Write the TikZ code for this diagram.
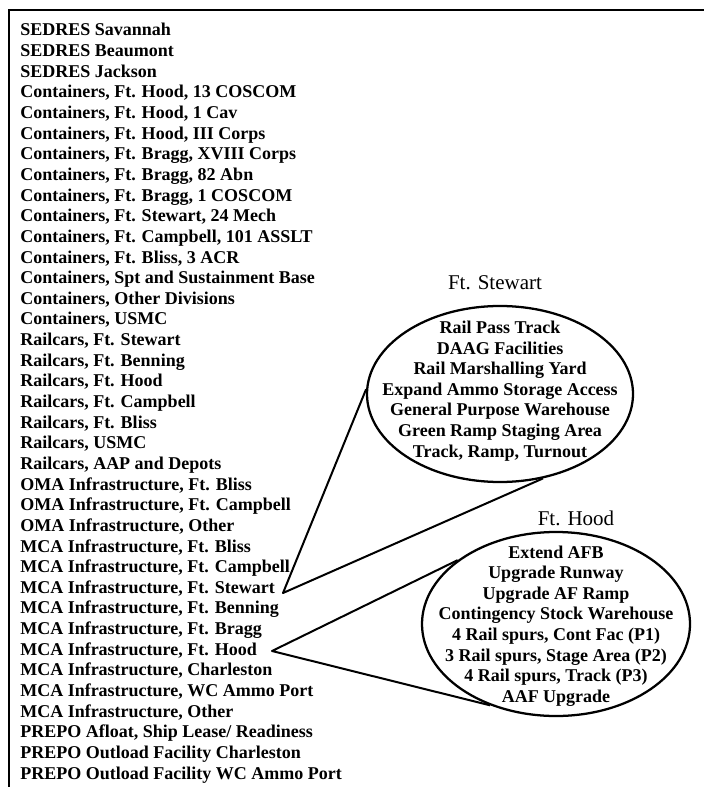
\documentclass[tikz,border=0pt]{standalone}
\usepackage{fontspec}
\setmainfont{Liberation Serif}
\usetikzlibrary{shapes.geometric}
\tikzset{entry/.style={anchor=base west,inner sep=0pt,
		font=\bfseries\fontsize{13.5}{15.45}\selectfont},
	bubble/.style={draw,ellipse,line width=1.7pt,inner sep=0pt},
	bubbletext/.style={align=center,inner sep=0pt,
		font=\bfseries\fontsize{13.5}{15.45}\selectfont},
	bubbletitle/.style={inner sep=0pt,font=\fontsize{15.75}{18}\selectfont},
	callout/.style={line width=1.5pt,line join=round},
}

\begin{document}
\begin{tikzpicture}[x=0.75pt,y=-0.75pt]
	\useasboundingbox (0,0) rectangle (704,787);
	\draw[line width=1.2pt] (9,787) -- (9,10) -- (704,10);
	
	\foreach \txt [count=\i] in {{SEDRES Savannah},{SEDRES Beaumont},{SEDRES Jackson},
		{Containers, Ft. Hood, 13 COSCOM},{Containers, Ft. Hood, 1 Cav},
		{Containers, Ft. Hood, III Corps},{Containers, Ft. Bragg, XVIII Corps},
		{Containers, Ft. Bragg, 82 Abn},{Containers, Ft. Bragg, 1 COSCOM},
		{Containers, Ft. Stewart, 24 Mech},{Containers, Ft. Campbell, 101 ASSLT},
		{Containers, Ft. Bliss, 3 ACR},{Containers, Spt and Sustainment Base},
		{Containers, Other Divisions},{Containers, USMC},
		{Railcars, Ft. Stewart},{Railcars, Ft. Benning},{Railcars, Ft. Hood},
		{Railcars, Ft. Campbell},{Railcars, Ft. Bliss},{Railcars, USMC},
		{Railcars, AAP and Depots},{OMA Infrastructure, Ft. Bliss},
		{OMA Infrastructure, Ft. Campbell},{OMA Infrastructure, Other},
		{MCA Infrastructure, Ft. Bliss},{MCA Infrastructure, Ft. Campbell},
		{MCA Infrastructure, Ft. Stewart},{MCA Infrastructure, Ft. Benning},
		{MCA Infrastructure, Ft. Bragg},{MCA Infrastructure, Ft. Hood},
		{MCA Infrastructure, Charleston},{MCA Infrastructure, WC Ammo Port},
		{MCA Infrastructure, Other},{PREPO Afloat, Ship Lease/ Readiness},
		{PREPO Outload Facility Charleston},{PREPO Outload Facility WC Ammo Port}}
	\node[entry] (l\i) at (20,{36+20.64*(\i-1)}) {\txt};
	
	% Ft. Stewart callout
	\node[bubble,minimum width=199.5pt,minimum height=132pt] (stewart) at (500,394) {};
	\node[bubbletext] (stewartlist) at (500,391) {Rail Pass Track\\DAAG Facilities\\
		Rail Marshalling Yard\\Expand Ammo Storage Access\\General Purpose Warehouse\\
		Green Ramp Staging Area\\Track, Ramp, Turnout};
	\node[bubbletitle] (stewarttitle) at (495,283) {Ft. Stewart};
	\coordinate (stewarttip) at (283,593);
	\draw[callout] (stewart.178) -- (stewarttip) -- (stewart.297);
	
	% Ft. Hood callout
	\node[bubble,minimum width=201pt,minimum height=138pt] (hood) at (556,624) {};
	\node[bubbletext] (hoodlist) at (556,626) {Extend AFB\\Upgrade Runway\\
		Upgrade AF Ramp\\Contingency Stock Warehouse\\4 Rail spurs, Cont Fac (P1)\\
		3 Rail spurs, Stage Area (P2)\\4 Rail spurs, Track (P3)\\AAF Upgrade};
	\node[bubbletitle] (hoodtitle) at (576,518) {Ft. Hood};
	\coordinate (hoodtip) at (272,651);
	\draw[callout] (hood.147) -- (hoodtip) -- (hood.231);
\end{tikzpicture}
\end{document}
